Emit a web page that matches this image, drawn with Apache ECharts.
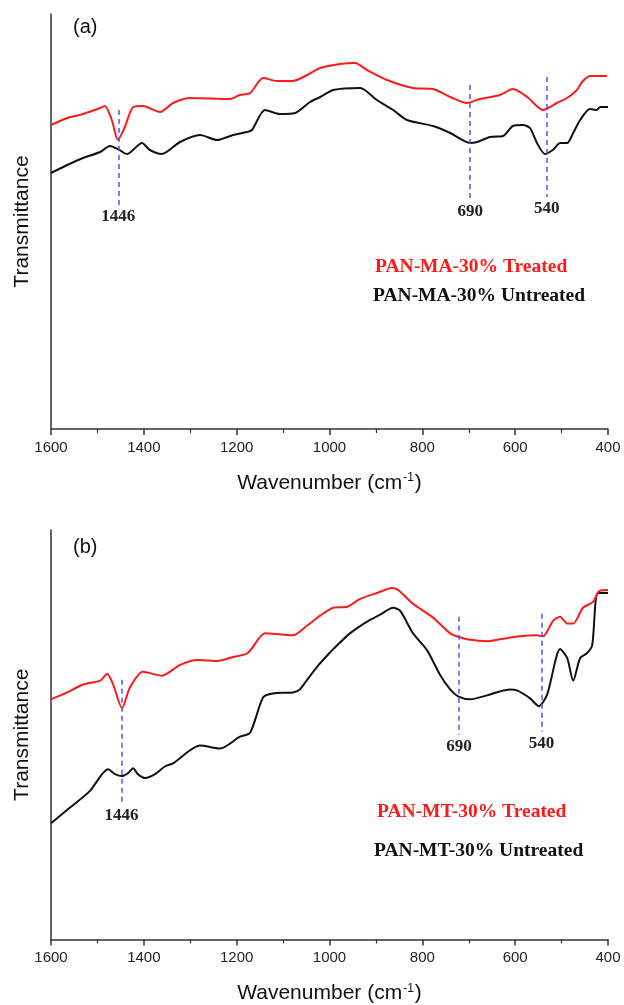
<!DOCTYPE html>
<html>
<head>
<meta charset="utf-8">
<script src="https://cdn.jsdelivr.net/npm/echarts@6/dist/echarts.min.js"></script>
<style>html,body{margin:0;padding:0;background:#fff;}#c{width:624px;height:1005px;}</style>
</head>
<body>
<div id="c"></div>
<script>
// ---- Data (wavenumber cm^-1, transmittance a.u.) ----
const treatedA = [[1600,304],[1565,311],[1531,315],[1494,321],[1484,323],[1469,309],[1456,289],[1441,302],[1423,322],[1402,323],[1365,317],[1337,326],[1300,331],[1214,330],[1193,334],[1171,336],[1143,351],[1113,348],[1079,348],[1048,354],[1020,361],[977,365],[945,366],[919,359],[876,349],[820,341],[777,340],[740,332],[704,326],[676,330],[633,334],[605,340],[574,332],[540,319],[529,321],[510,326],[488,331],[467,339],[456,347],[439,353],[402,353]];
const untreatedA = [[1600,256],[1565,264],[1531,271],[1494,277],[1473,283],[1456,280],[1436,275],[1404,286],[1387,279],[1361,275],[1322,287],[1279,294],[1242,289],[1208,294],[1178,297],[1167,299],[1139,319],[1107,315],[1074,316],[1042,327],[1020,332],[992,339],[934,341],[898,329],[863,319],[833,309],[777,303],[740,296],[697,286],[682,287],[654,292],[626,293],[605,303],[583,304],[568,301],[553,286],[536,275],[519,279],[503,286],[488,286],[475,296],[460,309],[439,320],[424,319],[417,322],[400,322]];
const treatedB = [[1600,244],[1565,251],[1531,259],[1494,263],[1479,270],[1466,259],[1447,235],[1430,256],[1402,272],[1361,268],[1322,279],[1285,284],[1242,283],[1208,287],[1176,291],[1139,311],[1107,310],[1079,309],[1048,319],[1020,329],[992,337],[962,338],[934,346],[898,352],[865,357],[852,355],[820,341],[777,327],[740,311],[719,307],[704,305],[661,303],[633,305],[590,308],[553,309],[540,308],[518,324],[503,328],[488,321],[475,321],[454,337],[432,343],[419,354],[400,355]];
const untreatedB = [[1600,118],[1559,134],[1516,151],[1490,168],[1477,173],[1462,168],[1447,166],[1434,169],[1423,174],[1413,168],[1397,164],[1376,168],[1354,176],[1337,179],[1279,197],[1236,194],[1193,206],[1171,210],[1143,246],[1122,250],[1079,251],[1064,254],[1048,264],[1025,278],[1000,291],[992,295],[956,311],[919,323],[891,330],[863,337],[848,334],[820,311],[790,294],[762,269],[740,254],[723,247],[697,244],[661,248],[633,252],[611,254],[596,253],[568,245],[549,237],[531,249],[503,295],[488,286],[475,263],[460,286],[445,291],[434,299],[422,352],[400,352]];
// peak markers: [position, top, bottom, label]
const peaksA = [[1455,319,224,'1446'],[697,344,229,'690'],[532,352,232,'540']];
const peaksB = [[1448,264,138,'1446'],[721,328,208,'690'],[543,331,211,'540']];
const xTicks = [1600,1400,1200,1000,800,600,400];
const namesA = ['PAN-MA-30% Treated','PAN-MA-30% Untreated'];
const namesB = ['PAN-MT-30% Treated','PAN-MT-30% Untreated'];

const chart = echarts.init(document.getElementById('c'), null, {renderer:'canvas'});
const sans = '"Liberation Sans", Arial, sans-serif';
const serif = '"Liberation Serif", "Times New Roman", serif';

function xAx(i){
  return {
    type:'value', gridIndex:i, min:400, max:1600, interval:200, inverse:true,
    axisLine:{show:true,onZero:false,lineStyle:{color:'#333',width:1.5}},
    axisTick:{show:true,inside:false,length:6,lineStyle:{color:'#333',width:1.5}},
    minorTick:{show:true,splitNumber:2,length:4,lineStyle:{color:'#333',width:1.2}},
    splitLine:{show:false},
    axisLabel:{show:true,margin:11,fontSize:15,color:'#222',fontFamily:sans,
      formatter:v=>xTicks.indexOf(v)>=0?String(v):''},
    name:'{a|Wavenumber (cm}{s|-1}{a|)}', nameLocation:'middle', nameGap:43,
    nameTextStyle:{fontFamily:sans,color:'#111',
      rich:{a:{fontSize:21,fontFamily:sans,color:'#111'},s:{fontSize:12,fontFamily:sans,color:'#111',verticalAlign:'top',padding:[0,1,10,1]}}}
  };
}
function yAx(i,max){
  return {
    type:'value', gridIndex:i, min:0, max:max,
    axisLine:{show:true,lineStyle:{color:'#333',width:1.5}},
    axisTick:{show:false}, axisLabel:{show:false}, splitLine:{show:false},
    name:'Transmittance', nameLocation:'middle', nameGap:18,
    nameTextStyle:{fontSize:21,fontFamily:sans,color:'#111'}
  };
}
function peakLine(peaks){
  return {
    symbol:['none','none'], silent:true,
    lineStyle:{color:'#5252ff',type:[5,4],width:1.5},
    label:{show:true,position:'end',distance:3,fontFamily:serif,fontWeight:'bold',fontSize:17,color:'#222',formatter:p=>p.data.name||p.name},
    data: peaks.map(p=>[{coord:[p[0],p[1]],name:p[3]},{coord:[p[0],p[2]]}])
  };
}
function line(name,data,color,xi,extra){
  const s = {type:'line',name:name,data:data,xAxisIndex:xi,yAxisIndex:xi,showSymbol:false,symbol:'none',smooth:0.25,
    lineStyle:{color:color,width:2},itemStyle:{color:color},z:3};
  if(extra) s.markLine = extra;
  return s;
}

chart.setOption({
  backgroundColor:'#fff',
  animation:false,
  grid:[{left:51,right:16,top:14,height:415},{left:51,right:16,top:530,height:416}],
  xAxis:[xAx(0),xAx(1)],
  yAxis:[yAx(0,415),yAx(1,416)],
  series:[
    line(namesA[1],untreatedA,'#111',0,peakLine(peaksA)),
    line(namesA[0],treatedA,'#ff1a1a',0),
    line(namesB[1],untreatedB,'#111',1,peakLine(peaksB)),
    line(namesB[0],treatedB,'#ff1a1a',1)
  ],
  graphic:[
    {type:'text',left:73,top:17,style:{text:'(a)',font:'20px '+sans,fill:'#111'}},
    {type:'text',left:73,top:537,style:{text:'(b)',font:'20px '+sans,fill:'#111'}},
    {type:'text',left:375,top:257,style:{text:namesA[0],font:'bold 19.5px '+serif,fill:'#ff1a1a'}},
    {type:'text',left:373,top:286,style:{text:namesA[1],font:'bold 19.5px '+serif,fill:'#111'}},
    {type:'text',left:377,top:802,style:{text:namesB[0],font:'bold 19.5px '+serif,fill:'#ff1a1a'}},
    {type:'text',left:374,top:841,style:{text:namesB[1],font:'bold 19.5px '+serif,fill:'#111'}}
  ]
});
</script>
</body>
</html>
